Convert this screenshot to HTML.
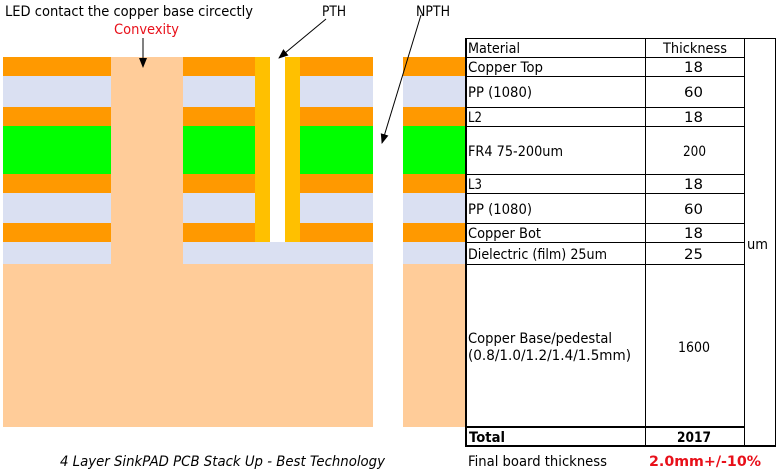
<!DOCTYPE html>
<html><head><meta charset="utf-8"><style>
html,body{margin:0;padding:0;background:#fff;width:781px;height:470px;overflow:hidden}
svg{display:block}
</style></head><body>
<svg width="781" height="470" viewBox="0 0 781 470" xmlns="http://www.w3.org/2000/svg" font-family="DejaVu Sans, Liberation Sans, sans-serif" font-size="14">
<defs><marker id="ah" markerWidth="10" markerHeight="10" refX="9" refY="5" orient="auto" markerUnits="userSpaceOnUse"><path d="M0,1 L10,5 L0,9 z" fill="#000"/></marker></defs>
<rect x="3" y="57" width="462" height="19" fill="#ff9900"/>
<rect x="3" y="76" width="462" height="31" fill="#dae0f2"/>
<rect x="3" y="107" width="462" height="19" fill="#ff9900"/>
<rect x="3" y="126" width="462" height="48" fill="#00ff00"/>
<rect x="3" y="174" width="462" height="19" fill="#ff9900"/>
<rect x="3" y="193" width="462" height="30" fill="#dae0f2"/>
<rect x="3" y="223" width="462" height="19" fill="#ff9900"/>
<rect x="3" y="242" width="462" height="22" fill="#dae0f2"/>
<rect x="3" y="264" width="462" height="163" fill="#ffcc99"/>
<rect x="111" y="57" width="72" height="207" fill="#ffcc99"/>
<rect x="255" y="57" width="45" height="185" fill="#ffc000"/>
<rect x="270" y="57" width="15" height="185" fill="#fff"/>
<rect x="373" y="50" width="30" height="380" fill="#fff"/>
<line x1="143" y1="38" x2="143" y2="67" stroke="#000" stroke-width="1" marker-end="url(#ah)"/>
<line x1="326" y1="19" x2="279" y2="58" stroke="#000" stroke-width="1" marker-end="url(#ah)"/>
<line x1="421" y1="15" x2="382" y2="143" stroke="#000" stroke-width="1" marker-end="url(#ah)"/>
<g fill="#000">
<text x="5" y="16" textLength="248" lengthAdjust="spacingAndGlyphs">LED contact the copper base circectly</text>
<text x="114" y="34" fill="#e8101a" textLength="65" lengthAdjust="spacingAndGlyphs">Convexity</text>
<text x="322" y="16" textLength="24" lengthAdjust="spacingAndGlyphs">PTH</text>
<text x="416" y="16" textLength="34" lengthAdjust="spacingAndGlyphs">NPTH</text>
</g>
<rect x="465.5" y="38.5" width="310" height="408" fill="#fff" stroke="#000"/>
<g stroke="#000" stroke-width="1">
<line x1="645.5" y1="38" x2="645.5" y2="447"/>
<line x1="744.5" y1="38" x2="744.5" y2="447"/>
<line x1="465" y1="57.5" x2="745" y2="57.5"/>
<line x1="465" y1="76.5" x2="745" y2="76.5"/>
<line x1="465" y1="107.5" x2="745" y2="107.5"/>
<line x1="465" y1="126.5" x2="745" y2="126.5"/>
<line x1="465" y1="174.5" x2="745" y2="174.5"/>
<line x1="465" y1="193.5" x2="745" y2="193.5"/>
<line x1="465" y1="223.5" x2="745" y2="223.5"/>
<line x1="465" y1="242.5" x2="745" y2="242.5"/>
<line x1="465" y1="264.5" x2="745" y2="264.5"/>
</g>
<line x1="465" y1="427" x2="745" y2="427" stroke="#000" stroke-width="2"/>
<line x1="465" y1="446" x2="776" y2="446" stroke="#000" stroke-width="2"/>
<line x1="466" y1="38" x2="466" y2="447" stroke="#000" stroke-width="2"/>
<g fill="#000">
<text x="468" y="53" textLength="52" lengthAdjust="spacingAndGlyphs">Material</text>
<text x="663" y="53" textLength="64" lengthAdjust="spacingAndGlyphs">Thickness</text>
<text x="468" y="72" textLength="75" lengthAdjust="spacingAndGlyphs">Copper Top</text><text x="684" y="72" textLength="19" lengthAdjust="spacingAndGlyphs">18</text>
<text x="468" y="97" textLength="64" lengthAdjust="spacingAndGlyphs">PP (1080)</text><text x="684" y="97" textLength="19" lengthAdjust="spacingAndGlyphs">60</text>
<text x="468" y="122" textLength="14" lengthAdjust="spacingAndGlyphs">L2</text><text x="684" y="122" textLength="19" lengthAdjust="spacingAndGlyphs">18</text>
<text x="468" y="156" textLength="95" lengthAdjust="spacingAndGlyphs">FR4 75-200um</text><text x="683" y="156" textLength="23" lengthAdjust="spacingAndGlyphs">200</text>
<text x="468" y="189" textLength="14" lengthAdjust="spacingAndGlyphs">L3</text><text x="684" y="189" textLength="19" lengthAdjust="spacingAndGlyphs">18</text>
<text x="468" y="214" textLength="64" lengthAdjust="spacingAndGlyphs">PP (1080)</text><text x="684" y="214" textLength="19" lengthAdjust="spacingAndGlyphs">60</text>
<text x="468" y="238" textLength="73" lengthAdjust="spacingAndGlyphs">Copper Bot</text><text x="684" y="238" textLength="19" lengthAdjust="spacingAndGlyphs">18</text>
<text x="468" y="259" textLength="139" lengthAdjust="spacingAndGlyphs">Dielectric (film) 25um</text><text x="684" y="259" textLength="19" lengthAdjust="spacingAndGlyphs">25</text>
<text x="468" y="343" textLength="144" lengthAdjust="spacingAndGlyphs">Copper Base/pedestal</text>
<text x="468" y="360" textLength="163" lengthAdjust="spacingAndGlyphs">(0.8/1.0/1.2/1.4/1.5mm)</text>
<text x="678" y="352" textLength="32" lengthAdjust="spacingAndGlyphs">1600</text>
<text x="747" y="249" textLength="21" lengthAdjust="spacingAndGlyphs">um</text>
<text x="469" y="442" font-weight="bold" textLength="36" lengthAdjust="spacingAndGlyphs">Total</text>
<text x="677" y="442" font-weight="bold" textLength="34" lengthAdjust="spacingAndGlyphs">2017</text>
<text x="60" y="466" font-style="italic" textLength="325" lengthAdjust="spacingAndGlyphs">4 Layer SinkPAD PCB Stack Up - Best Technology</text>
<text x="468" y="466" textLength="139" lengthAdjust="spacingAndGlyphs">Final board thickness</text>
<text x="649" y="466" fill="#e8101a" font-weight="bold" textLength="112" lengthAdjust="spacingAndGlyphs">2.0mm+/-10%</text>
</g>
</svg>
</body></html>
